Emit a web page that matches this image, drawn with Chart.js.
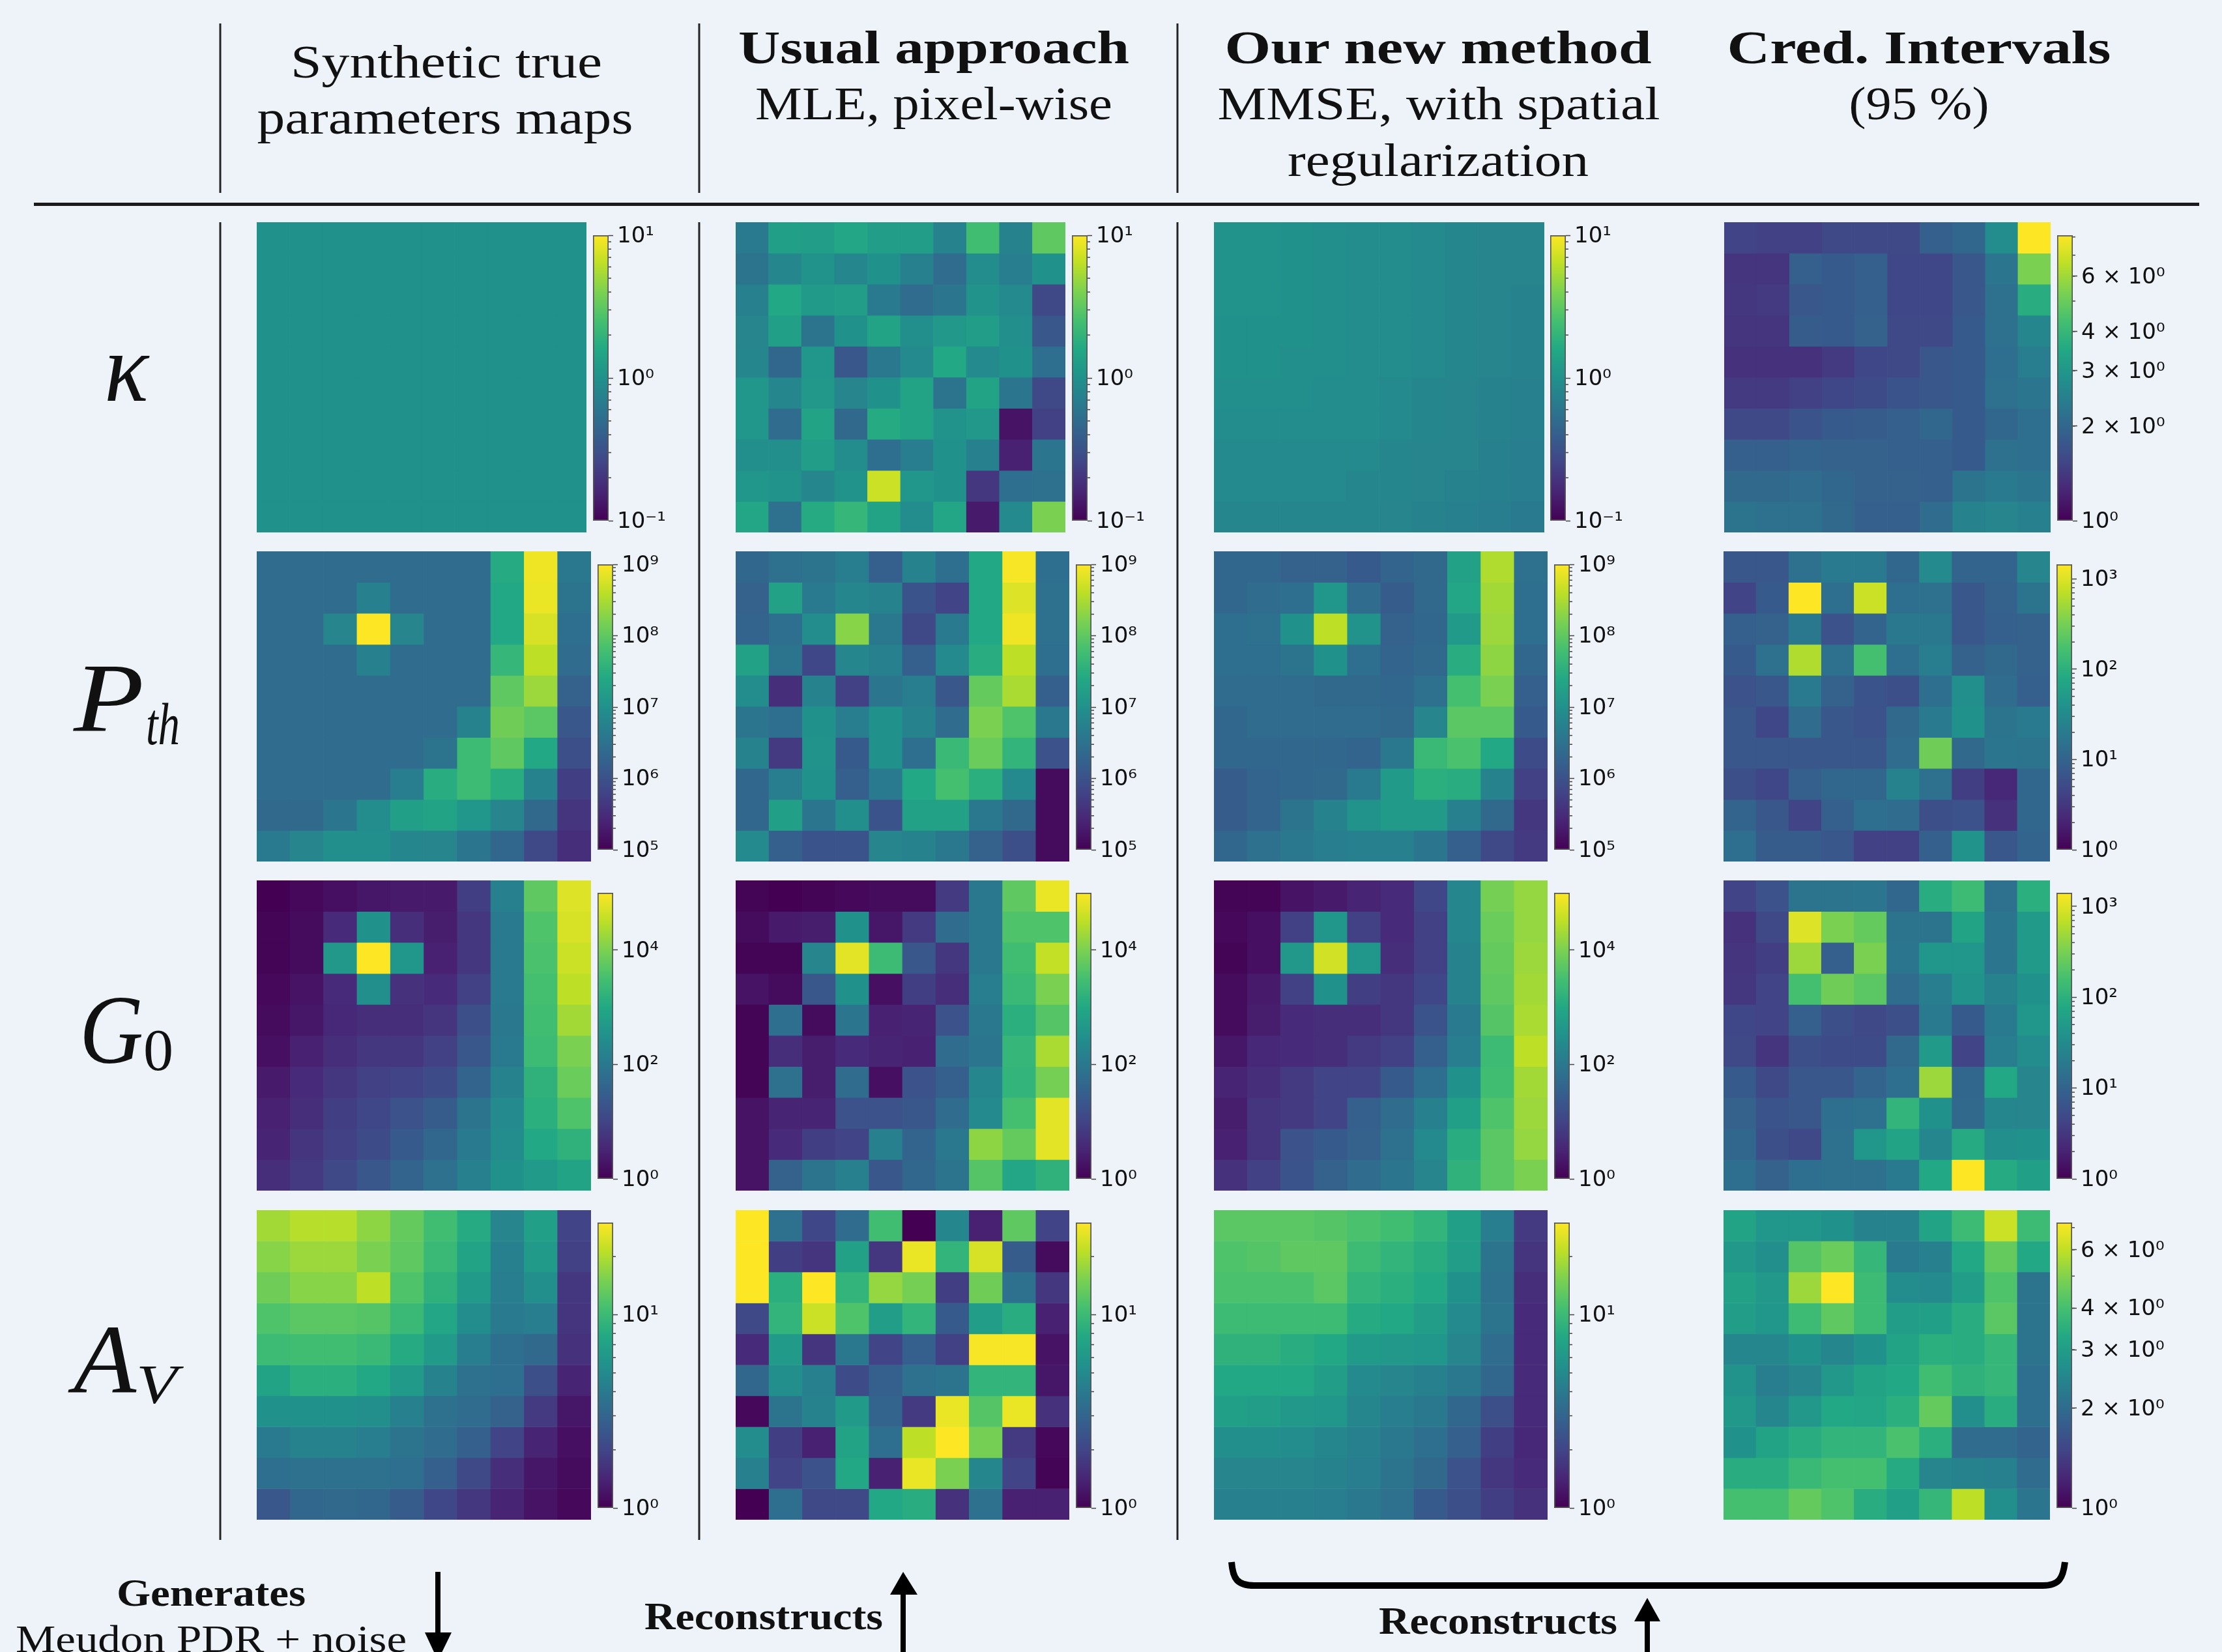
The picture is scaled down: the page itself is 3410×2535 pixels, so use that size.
<!DOCTYPE html>
<html>
<head>
<meta charset="utf-8">
<title>Parameter maps</title>
<script src="https://cdn.jsdelivr.net/npm/chart.js@4"></script>
<style>
    html, body { margin: 0; padding: 0; background: #eef3fa; }
    #page { position: relative; width: 3410px; height: 2535px; overflow: hidden; }
    #page canvas, #page svg { position: absolute; }
    svg text { font-family: "Liberation Serif", serif; fill: #111; }
</style>
</head>
<body>
<div id="page">
<svg width="3410" height="2535" style="left:0;top:0">
    <!-- separators -->
    <g stroke="#222" stroke-width="3">
        <line x1="338" y1="36" x2="338" y2="296"/>
        <line x1="1073" y1="36" x2="1073" y2="296"/>
        <line x1="1807" y1="36" x2="1807" y2="296"/>
        <line x1="338" y1="341" x2="338" y2="2363"/>
        <line x1="1073" y1="341" x2="1073" y2="2363"/>
        <line x1="1807" y1="341" x2="1807" y2="2363"/>
    </g>
    <line x1="52" y1="313.500" x2="3375" y2="313.500" stroke="#1a1a1a" stroke-width="5"/>

    <!-- column headers -->
    <g font-size="72" text-anchor="middle">
        <text x="685" y="119" textLength="478" lengthAdjust="spacingAndGlyphs">Synthetic true</text>
        <text x="683" y="205" textLength="577" lengthAdjust="spacingAndGlyphs">parameters maps</text>
        <text x="1433" y="97" textLength="600" lengthAdjust="spacingAndGlyphs" font-weight="bold">Usual approach</text>
        <text x="1433" y="183" textLength="548" lengthAdjust="spacingAndGlyphs">MLE, pixel-wise</text>
        <text x="2207" y="97" textLength="655" lengthAdjust="spacingAndGlyphs" font-weight="bold">Our new method</text>
        <text x="2208" y="183" textLength="679" lengthAdjust="spacingAndGlyphs">MMSE, with spatial</text>
        <text x="2207" y="270" textLength="462" lengthAdjust="spacingAndGlyphs">regularization</text>
        <text x="2945" y="97" textLength="589" lengthAdjust="spacingAndGlyphs" font-weight="bold">Cred. Intervals</text>
        <text x="2945" y="183" textLength="215" lengthAdjust="spacingAndGlyphs">(95 %)</text>
    </g>

    <!-- row labels -->
    <g font-size="150" font-style="italic">
        <text x="160" y="615" textLength="68" lengthAdjust="spacingAndGlyphs">κ</text>
        <text x="113" y="1122" textLength="108" lengthAdjust="spacingAndGlyphs">P</text>
        <text x="224" y="1142" font-size="92" textLength="52" lengthAdjust="spacingAndGlyphs">th</text>
        <text x="122" y="1631" textLength="98" lengthAdjust="spacingAndGlyphs">G</text>
        <text x="220" y="1642" font-size="90" font-style="normal" textLength="46" lengthAdjust="spacingAndGlyphs">0</text>
        <text x="113" y="2136" textLength="96" lengthAdjust="spacingAndGlyphs">A</text>
        <text x="209" y="2153" font-size="84" textLength="63" lengthAdjust="spacingAndGlyphs">V</text>
    </g>

    <!-- bottom annotations -->
    <g font-size="60" text-anchor="middle">
        <text x="324" y="2464" textLength="290" lengthAdjust="spacingAndGlyphs" font-weight="bold">Generates</text>
        <text x="324" y="2535" textLength="600" lengthAdjust="spacingAndGlyphs">Meudon PDR + noise</text>
        <text x="1172" y="2500" textLength="366" lengthAdjust="spacingAndGlyphs" font-weight="bold">Reconstructs</text>
        <text x="2299" y="2507" textLength="366" lengthAdjust="spacingAndGlyphs" font-weight="bold">Reconstructs</text>
    </g>
    <g fill="#000" stroke="none">
        <rect x="668" y="2412" width="8" height="100"/>
        <path d="M652 2505 L693 2505 L672 2548 Z"/>
        <rect x="1382" y="2440" width="8" height="100"/>
        <path d="M1366 2447 L1408 2447 L1386 2412 Z"/>
        <rect x="2524" y="2480" width="8" height="60"/>
        <path d="M2508 2488 L2548 2488 L2528 2452 Z"/>
    </g>
    <path d="M1890 2397 C1892 2422 1898 2433 1925 2433 L3135 2433 C3160 2433 3166 2422 3169 2397"
          fill="none" stroke="#000" stroke-width="10"/>
</svg>
</div>

<script>
// levels: position of each cell on its own log colorbar, 0 = bottom, 100 = top
const kappaTrue = [
    [50,50,50,50,50,50,50,50,50,50],
    [50,50,50,50,50,50,50,50,50,50],
    [50,50,50,50,50,50,50,50,50,50],
    [50,50,50,50,50,50,50,50,50,50],
    [50,50,50,50,50,50,50,50,50,50],
    [50,50,50,50,50,50,50,50,50,50],
    [50,50,50,50,50,50,50,50,50,50],
    [50,50,50,50,50,50,50,50,50,50],
    [50,50,50,50,50,50,50,50,50,50],
    [50,50,50,50,50,50,50,50,50,50]
];
const kappaMle = [
    [41,56,55,59,55,55,44,69,44,75],
    [38,46,51,46,50,43,35,48,42,50],
    [43,60,54,55,41,35,39,51,47,22],
    [45,56,38,50,58,49,53,55,49,27],
    [46,33,52,27,40,47,60,47,50,36],
    [52,46,53,45,50,58,38,58,39,22],
    [52,35,58,34,61,58,51,53,5,19],
    [49,49,55,48,36,42,50,43,9,39],
    [52,51,46,51,92,52,50,16,36,37],
    [59,37,61,66,58,48,59,7,47,80]
];
const kappaMmse = [
    [51,51,50,49,48,48,47,46,45,45],
    [51,51,50,49,48,48,47,46,45,45],
    [51,51,50,49,48,48,47,46,45,44],
    [50,50,50,49,48,48,47,46,45,44],
    [50,50,49,49,48,48,47,46,45,44],
    [49,49,49,48,48,47,46,45,44,43],
    [48,48,48,48,48,47,46,45,44,43],
    [47,47,47,47,47,46,45,45,43,42],
    [47,47,47,47,46,46,45,44,43,42],
    [46,46,46,46,46,45,44,43,42,41]
];
const kappaCi = [
    [20,19,19,22,22,22,30,33,48,100],
    [15,15,30,28,30,21,21,27,39,80],
    [16,17,27,28,30,21,21,27,37,62],
    [15,15,29,28,31,22,22,28,37,46],
    [14,14,14,17,21,22,27,28,36,42],
    [17,17,19,21,23,26,27,28,37,39],
    [22,22,26,28,29,30,33,28,33,36],
    [30,30,32,31,31,30,30,28,37,36],
    [34,34,35,33,31,31,30,38,41,39],
    [38,37,37,34,30,30,35,44,45,43]
];
const pthTrue = [
    [35,35,35,35,35,35,35,61,98,40],
    [35,35,35,43,35,35,35,60,97,38],
    [35,35,45,100,45,35,35,60,94,36],
    [35,35,35,43,35,35,35,66,90,35],
    [35,35,35,35,35,35,35,75,85,31],
    [35,35,35,35,35,35,44,78,74,27],
    [35,35,35,35,35,38,68,75,60,24],
    [35,35,35,35,42,62,68,62,44,18],
    [34,34,39,48,56,58,52,45,34,15],
    [41,45,49,49,46,45,39,33,22,13]
];
const pthMle = [
    [33,37,38,42,30,44,36,60,99,36],
    [31,57,41,46,44,26,20,60,95,37],
    [32,36,48,82,40,22,41,60,98,37],
    [57,38,21,46,43,30,47,62,90,36],
    [48,13,44,19,39,42,27,76,87,30],
    [39,36,50,42,50,44,35,80,72,40],
    [44,17,51,28,50,36,67,77,65,25],
    [33,42,50,30,41,60,70,63,47,3],
    [33,56,39,49,26,57,57,40,34,3],
    [47,30,26,26,45,44,40,31,24,3]
];
const pthMmse = [
    [33,33,31,31,28,32,34,57,88,37],
    [33,35,36,52,35,29,34,59,86,36],
    [36,37,50,90,51,31,33,54,85,36],
    [36,36,38,50,36,32,34,62,83,33],
    [35,35,35,34,34,33,37,70,80,30],
    [33,35,35,35,35,34,45,74,74,28],
    [33,33,33,33,32,40,67,71,60,23],
    [29,32,33,34,41,54,63,62,44,19],
    [29,32,38,44,51,54,54,43,34,16],
    [33,37,40,42,43,43,39,30,22,17]
];
const pthCi = [
    [27,27,37,41,41,33,47,32,32,45],
    [20,28,100,36,92,36,37,27,31,38],
    [30,31,40,25,32,40,40,27,30,31],
    [28,37,88,37,70,36,42,31,34,31],
    [25,27,41,31,26,24,36,49,35,30],
    [27,21,35,27,25,34,41,50,38,41],
    [27,27,27,27,27,35,78,34,39,38],
    [24,21,30,33,33,44,37,18,11,33],
    [32,27,20,30,36,35,24,25,14,33],
    [36,29,29,27,19,19,30,51,27,32]
];
const g0True = [
    [0,2,4,6,7,7,18,43,75,95],
    [1,3,12,50,13,8,16,41,72,94],
    [1,3,53,100,52,9,16,41,71,92],
    [2,5,12,49,14,12,19,41,70,90],
    [3,6,11,13,13,15,24,40,69,86],
    [4,9,13,16,16,19,27,41,68,80],
    [7,12,16,19,20,23,32,44,64,77],
    [9,13,18,21,25,29,38,47,63,72],
    [10,15,19,23,28,33,41,48,60,64],
    [13,17,22,27,32,37,43,50,54,58]
];
const g0Mle = [
    [1,0,1,2,3,3,17,40,75,97],
    [3,7,8,50,6,17,35,40,72,72],
    [1,1,45,96,68,27,16,40,69,91],
    [5,3,27,50,4,18,13,42,67,80],
    [1,36,3,39,9,10,25,40,63,73],
    [1,13,8,12,10,9,35,39,66,87],
    [1,37,8,35,4,25,30,46,65,79],
    [5,10,10,25,25,27,35,47,70,96],
    [5,12,18,20,43,32,40,83,76,96],
    [5,31,38,43,27,33,38,73,59,64]
];
const g0Mmse = [
    [1,1,5,7,10,12,21,46,79,84],
    [2,4,19,52,19,12,19,46,77,84],
    [1,4,53,93,52,13,19,44,76,85],
    [3,7,19,50,18,16,21,44,75,86],
    [3,8,12,13,13,16,26,41,73,87],
    [6,11,12,13,17,19,30,42,68,90],
    [10,13,17,20,20,28,36,50,69,86],
    [8,15,17,20,30,35,43,56,72,85],
    [9,15,25,28,31,37,47,62,74,84],
    [14,19,26,31,35,39,45,64,74,80]
];
const g0Ci = [
    [20,25,38,38,39,33,62,68,37,63],
    [14,22,95,80,76,38,38,58,39,54],
    [15,18,85,30,80,39,52,52,39,54],
    [16,20,70,78,74,35,42,51,44,50],
    [21,20,30,24,22,24,41,28,41,52],
    [22,15,24,23,23,34,54,20,42,48],
    [28,22,27,27,32,36,85,33,60,45],
    [31,26,27,36,37,65,50,34,46,45],
    [33,24,22,37,52,58,46,61,49,50],
    [36,31,36,37,37,41,60,100,61,56]
];
const avTrue = [
    [86,89,89,83,76,69,61,45,56,20],
    [82,85,85,80,75,67,58,43,54,19],
    [78,82,82,90,72,64,54,42,49,16],
    [72,74,74,73,67,59,48,41,42,15],
    [68,69,69,67,61,54,42,36,34,14],
    [58,63,63,60,54,44,37,36,24,10],
    [50,50,50,49,43,37,35,31,17,6],
    [41,44,44,42,38,35,30,20,10,4],
    [36,37,37,37,36,30,22,13,6,3],
    [27,33,34,33,29,21,16,10,5,2]
];
const avMle = [
    [100,37,21,35,69,0,46,9,75,20],
    [100,18,15,57,16,97,65,94,29,3],
    [100,63,100,65,84,79,18,78,37,16],
    [22,65,92,72,55,65,28,55,62,9],
    [12,54,15,40,20,30,19,99,99,5],
    [33,49,43,23,30,37,38,65,65,6],
    [2,38,44,54,32,17,97,73,97,14],
    [48,18,9,58,36,90,100,79,17,2],
    [43,20,25,60,9,97,80,46,20,1],
    [0,36,22,22,60,62,14,37,9,9]
];
const avMmse = [
    [74,74,74,73,71,69,65,56,42,17],
    [72,73,75,75,68,65,62,55,38,15],
    [71,71,71,74,65,63,60,50,37,13],
    [68,68,68,68,61,60,55,47,38,12],
    [64,64,62,60,54,53,52,45,35,12],
    [60,60,60,55,47,45,43,40,33,12],
    [56,55,53,52,46,42,40,33,24,12],
    [49,49,48,46,43,40,36,30,18,11],
    [45,45,45,44,42,38,34,25,16,12],
    [43,43,43,42,40,37,28,24,18,14]
];
const avCi = [
    [58,52,52,50,44,44,58,68,92,68],
    [53,49,73,77,66,41,43,60,76,60],
    [57,53,85,100,68,48,47,55,72,38],
    [55,52,68,75,68,55,56,62,74,38],
    [46,46,50,46,50,58,63,62,66,38],
    [51,42,45,53,58,60,69,64,66,36],
    [53,46,53,60,59,63,76,49,62,36],
    [50,58,62,65,65,71,63,35,35,32],
    [62,62,67,70,70,61,45,44,43,35],
    [70,70,76,72,62,56,66,90,49,39]
];

const columns = [0, 1, 2, 3, 4, 5, 6, 7, 8, 9];

// colorbar ranges
const kappaRange = [0.1, 10];
const kappaCiRange = [1, 8.1];
const pthRange = [1e5, 1e9];
const pthCiRange = [1, 1450];
const g0Range = [1, 1e5];
const g0CiRange = [1, 1413];
const avRange = [1, 30];
const avCiRange = [1, 7.25];

// labelled ticks and their text
const kappaTicks = [0.1, 1, 10];
const kappaLabels = ["10⁻¹", "10⁰", "10¹"];
const kappaCiTicks = [1, 2, 3, 4, 6];
const kappaCiLabels = ["10⁰", "2 × 10⁰", "3 × 10⁰", "4 × 10⁰", "6 × 10⁰"];
const pthTicks = [1e5, 1e6, 1e7, 1e8, 1e9];
const pthLabels = ["10⁵", "10⁶", "10⁷", "10⁸", "10⁹"];
const pthCiTicks = [1, 10, 100, 1000];
const pthCiLabels = ["10⁰", "10¹", "10²", "10³"];
const g0Ticks = [1, 100, 1e4];
const g0Labels = ["10⁰", "10²", "10⁴"];
const avTicks = [1, 10];
const avLabels = ["10⁰", "10¹"];

const minorSteps = [2, 3, 4, 5, 6, 7, 8, 9];

const viridis = ["#440154", "#482475", "#414487", "#355f8d", "#2a788e", "#21918c",
    "#22a884", "#44bf70", "#7ad151", "#bddf26", "#fde725"];

// panel geometry
const colLefts = [394, 1129, 1863, 2645];
const heatTops = [341, 846, 1351, 1857];
const heatHeight = [476, 476, 476, 475];
const barTops = [361, 866, 1370, 1876];
const barHeights = [438, 438, 439, 438];

function rgb(hex) {
    return [1, 3, 5].map(i => parseInt(hex.slice(i, i + 2), 16));
}

function cellColor(level) {
    const pos = Math.min(level, 99.999) / 10;
    const i = Math.floor(pos);
    const a = rgb(viridis[i]);
    const b = rgb(viridis[i + 1]);
    const c = a.map((v, k) => Math.round(v + (b[k] - v) * (pos - i)));
    return `rgb(${c[0]},${c[1]},${c[2]})`;
}

function addCanvas(left, top, w, h) {
    const cv = document.createElement("canvas");
    cv.width = w;
    cv.height = h;
    cv.style.left = left + "px";
    cv.style.top = top + "px";
    cv.style.width = w + "px";
    cv.style.height = h + "px";
    document.getElementById("page").appendChild(cv);
    return cv.getContext("2d");
}

function drawHeat(left, top, w, h, rows) {
    new Chart(addCanvas(left, top, w, h), {
        type: "bar",
        data: {
            labels: columns,
            datasets: rows.map((row, r) => ({
                data: row.map(() => [r, r + 1]),
                backgroundColor: row.map(cellColor),
                grouped: false,
                barPercentage: 1,
                categoryPercentage: 1
            }))
        },
        options: {
            responsive: false,
            animation: false,
            devicePixelRatio: 1,
            layout: { padding: 0 },
            plugins: { legend: { display: false }, tooltip: { enabled: false } },
            scales: {
                x: { display: false },
                y: { display: false, min: 0, max: 10, reverse: true }
            }
        }
    });
}

function minorTicks(range, showMinor) {
    if (!showMinor) return [];
    const out = [];
    for (let d = 1e-2; d <= 1e9; d *= 10) {
        minorSteps.forEach(s => {
            const v = Math.round(d * s * 1000) / 1000;
            if (v > range[0] && v < range[1]) out.push(v);
        });
    }
    return out;
}

const minorPlugin = {
    id: "minorTicks",
    afterDraw(chart, args, opts) {
        const c = chart.ctx;
        const scale = chart.scales.y;
        c.save();
        c.strokeStyle = "#444";
        c.lineWidth = 1.5;
        opts.values.forEach(v => {
            const y = scale.getPixelForValue(v);
            c.beginPath();
            c.moveTo(chart.chartArea.right, y);
            c.lineTo(chart.chartArea.right + 4, y);
            c.stroke();
        });
        c.restore();
    }
};

function drawBar(left, top, h, range, ticks, labels, showMinor) {
    const margin = 40;
    const w = 26 + 170;
    new Chart(addCanvas(left - 2, top - margin, w, h + margin * 2), {
        type: "bar",
        data: {
            labels: [""],
            datasets: [{
                data: [range],
                barPercentage: 1,
                categoryPercentage: 1,
                borderColor: "#555",
                borderWidth: 2,
                borderSkipped: false,
                backgroundColor: ctx => {
                    const area = ctx.chart.chartArea;
                    if (!area) return viridis[5];
                    const g = ctx.chart.ctx.createLinearGradient(0, area.bottom, 0, area.top);
                    viridis.forEach((col, i) => g.addColorStop(i / 10, col));
                    return g;
                }
            }]
        },
        options: {
            responsive: false,
            animation: false,
            devicePixelRatio: 1,
            layout: { padding: { left: 2, top: margin, bottom: margin, right: 0 } },
            plugins: {
                legend: { display: false },
                tooltip: { enabled: false },
                minorTicks: { values: minorTicks(range, showMinor) }
            },
            scales: {
                x: { display: false },
                y: {
                    type: "logarithmic",
                    position: "right",
                    min: range[0],
                    max: range[1],
                    border: { display: false },
                    grid: { drawOnChartArea: false, tickLength: 7, tickColor: "#444", tickWidth: 1.5 },
                    afterFit: s => { s.width = 170; },
                    afterBuildTicks: s => { s.ticks = ticks.map(v => ({ value: v })); },
                    ticks: {
                        autoSkip: false,
                        padding: 6,
                        labelOffset: 2,
                        color: "#111",
                        font: { family: "DejaVu Sans", size: 34 },
                        callback: v => labels[ticks.indexOf(v)]
                    }
                }
            }
        },
        plugins: [minorPlugin]
    });
}

// row 1 panels are a little narrower than the others
drawHeat(394, heatTops[0], 506, heatHeight[0], kappaTrue);
drawHeat(1129, heatTops[0], 506, heatHeight[0], kappaMle);
drawHeat(1863, heatTops[0], 507, heatHeight[0], kappaMmse);
drawHeat(2646, heatTops[0], 501, heatHeight[0], kappaCi);
drawBar(910, barTops[0], barHeights[0], kappaRange, kappaTicks, kappaLabels, true);
drawBar(1645, barTops[0], barHeights[0], kappaRange, kappaTicks, kappaLabels, true);
drawBar(2379, barTops[0], barHeights[0], kappaRange, kappaTicks, kappaLabels, true);
drawBar(3157, barTops[0], barHeights[0], kappaCiRange, kappaCiTicks, kappaCiLabels, true);

const rowMaps = [
    [pthTrue, pthMle, pthMmse, pthCi],
    [g0True, g0Mle, g0Mmse, g0Ci],
    [avTrue, avMle, avMmse, avCi]
];
const heatWidths = [513, 512, 512, 501];
const barLefts = [917, 1651, 2385, 3156];

rowMaps.forEach((maps, i) => {
    maps.forEach((rows, j) => {
        drawHeat(colLefts[j], heatTops[i + 1], heatWidths[j], heatHeight[i + 1], rows);
    });
});

// colorbars of rows 2-4
[0, 1, 2].forEach(j => {
    drawBar(barLefts[j], barTops[1], barHeights[1], pthRange, pthTicks, pthLabels, true);
    drawBar(barLefts[j], barTops[2], barHeights[2], g0Range, g0Ticks, g0Labels, false);
    drawBar(barLefts[j], barTops[3], barHeights[3], avRange, avTicks, avLabels, true);
});
drawBar(barLefts[3], barTops[1], barHeights[1], pthCiRange, pthCiTicks, pthCiLabels, true);
drawBar(barLefts[3], barTops[2], barHeights[2], g0CiRange, pthCiTicks, pthCiLabels, true);
drawBar(barLefts[3], barTops[3], barHeights[3], avCiRange, kappaCiTicks, kappaCiLabels, true);
</script>
</body>
</html>
